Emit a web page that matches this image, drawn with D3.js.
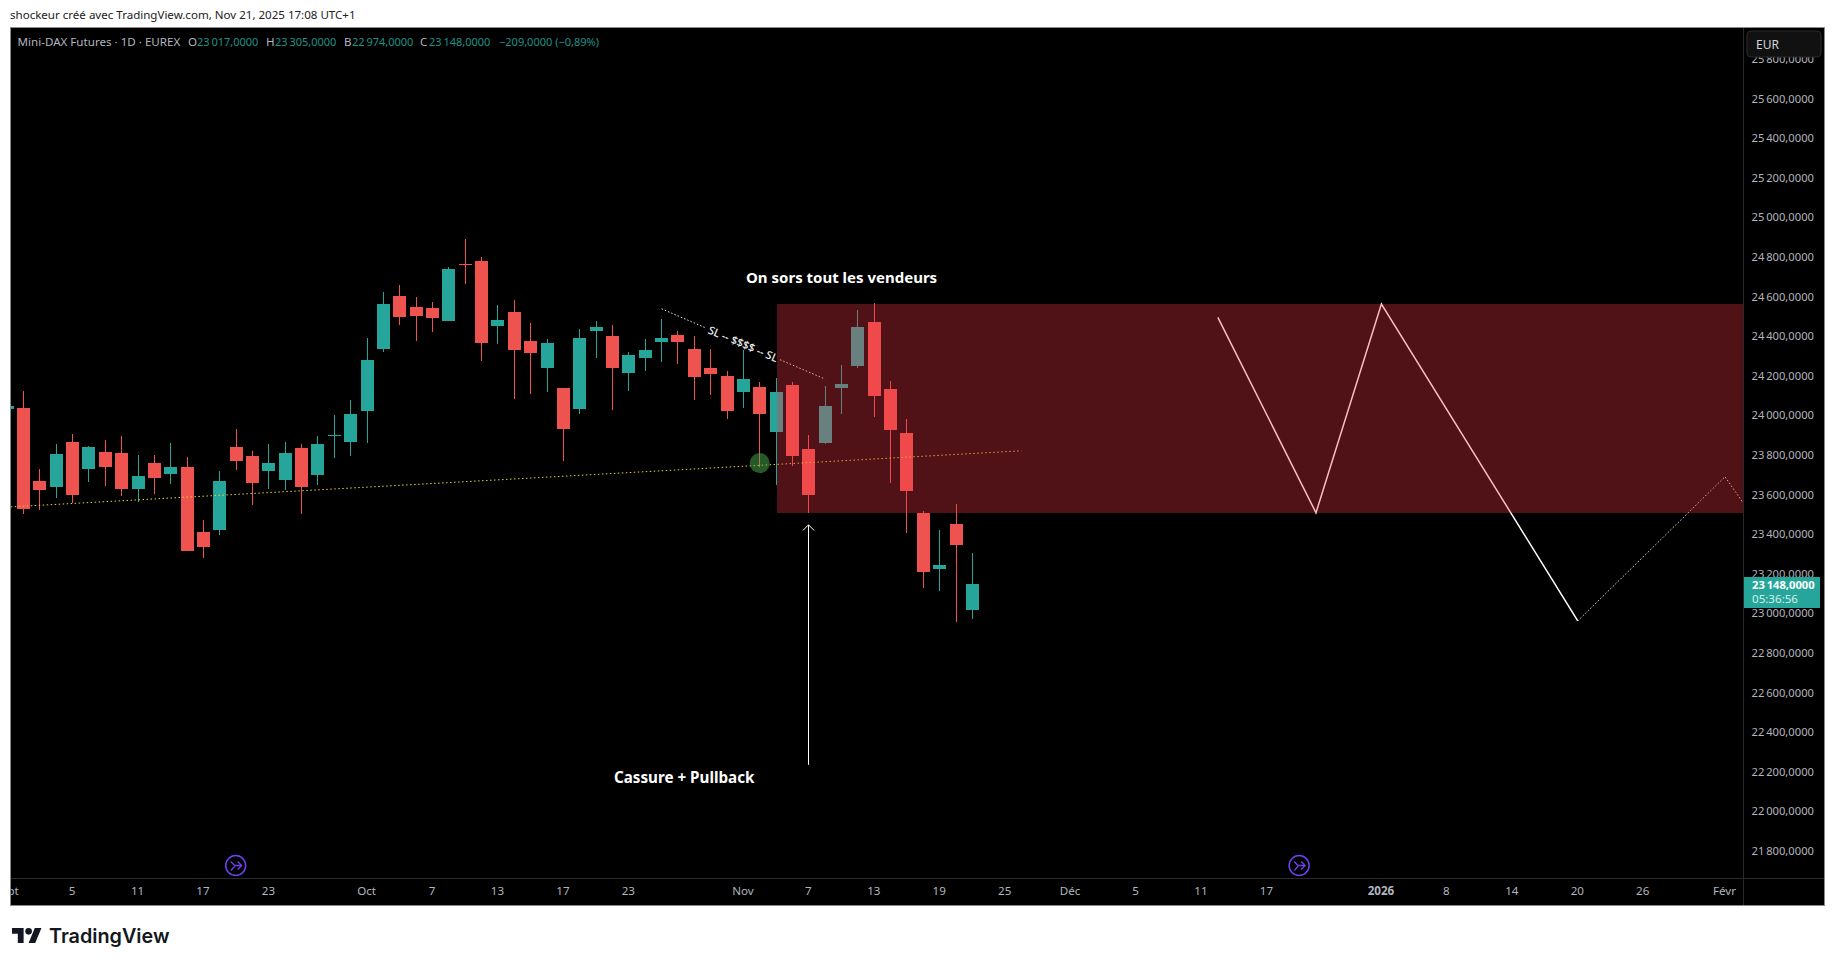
<!DOCTYPE html>
<html>
<head>
<meta charset="utf-8">
<title>Mini-DAX Futures</title>
<script src="https://cdn.jsdelivr.net/npm/d3@7"></script>
<style>
    html, body { margin: 0; padding: 0; background: #fff; overflow: hidden; }
    text { font-family: "Noto Sans", sans-serif; }
</style>
</head>
<body>
<svg id="graph" width="1835" height="966"></svg>
<script>
// candle index 0 = 2 Sept 2025, index -1 is the clipped 1 Sept bar
const barIndex = d3.range(-1, 59);
const opens = [24032,24037,23668,23638,23865,23729,23815,23810,23628,23759,23704,23739,23411,23421,23840,23795,23719,23673,23835,23699,23896,23865,24022,24335,24603,24547,24542,24476,24764,24779,24451,24522,24375,24239,24138,24032,24426,24401,24214,24290,24370,24406,24335,24239,24199,24118,24143,23916,24153,23830,23860,24138,24249,24471,24133,23911,23507,23224,23451,23017];
const highs = [24047,24123,23729,23855,23906,23845,23876,23896,23800,23800,23860,23790,23471,23719,23931,23820,23855,23865,23855,23896,24002,24077,24391,24623,24658,24598,24572,24749,24891,24800,24557,24582,24466,24386,24138,24436,24476,24456,24320,24386,24487,24426,24401,24335,24224,24330,24168,24189,24168,23901,24148,24254,24532,24567,24173,23982,23517,23421,23552,23305];
const lows = [24032,23502,23522,23583,23556,23663,23643,23593,23562,23603,23653,23315,23280,23396,23724,23547,23628,23623,23502,23648,23785,23795,23860,24320,24456,24375,24421,24476,24663,24274,24360,24083,24108,24118,23769,24007,24290,24027,24123,24224,24269,24259,24077,24103,23982,24037,23739,23648,23744,23507,23855,24007,24239,23992,23658,23406,23128,23113,22956,22974];
const closes = [24047,23527,23623,23805,23598,23840,23739,23628,23694,23684,23739,23315,23335,23668,23769,23658,23759,23810,23638,23855,23901,24007,24279,24562,24497,24502,24492,24739,24759,24365,24481,24330,24315,24365,23931,24391,24446,24239,24305,24330,24391,24370,24194,24209,24022,24184,24007,24118,23795,23598,24047,24158,24446,24098,23926,23618,23209,23244,23345,23148];

const priceTicks = d3.range(21800, 25801, 200);
const timeTicks = [-1,3,7,11,15,21,25,29,33,37,44,48,52,56,60,64,68,72,76,83,87,91,95,99,104];
const timeLabels = ["Sept","5","11","17","23","Oct","7","13","17","23","Nov","7","13","19","25","Déc","5","11","17","2026","8","14","20","26","Févr"];
const boldTimeLabels = ["2026"];

// drawings, as [bar index, price]
const zonePoints = [[46, 24562], [112, 23507]];
const trendPoints = [[-2, 23532], [61, 23821]];
const stopLeft = [[39, 24538], [41.66, 24443]];
const stopRight = [[46.24, 24281], [49, 24183]];
const stopLabelAt = [43.95, 24360];
const zigzagSolid = [[73, 24495], [79, 23508], [83, 24562], [95, 22962]];
const zigzagDotted = [[95, 22962], [104, 23690], [108, 23214]];
const arrowPoints = [[48, 23447], [48, 22235]];
const touchPoint = [45, 23759];
const eventBars = [13, 78];
const lastPrice = 23148;

const legendName = "Mini-DAX Futures · 1D · EUREX";
const legendParts = [["O", "23\u202f017,0000"], ["H", "23\u202f305,0000"], ["B", "22\u202f974,0000"], ["C", "23\u202f148,0000"]];
const legendChange = "−209,0000 (−0,89%)";
const legendPartX = [188, 266, 344, 420];
const legendValueX = [197, 275, 352, 429];

const up = "#26a69a", down = "#ef5350";
const frame = { left: 10, top: 27, right: 1824, bottom: 905, axisX: 1743, axisY: 878 };

const svg = d3.select("#graph");
const x = d3.scaleLinear().domain([0, 104]).range([24, 1725.5]);
const y = d3.scaleLinear().domain([21800, 25600]).range([851, 98.5]);
const fr = d3.formatLocale({ decimal: ",", thousands: "\u202f", grouping: [3], currency: ["", ""] });
const priceFormat = fr.format(",.4f");

const candles = barIndex.map((b, i) => ({ b, o: opens[i], h: highs[i], l: lows[i], c: closes[i] }));

// clips
const defs = svg.append("defs");
defs.append("clipPath").attr("id", "plotClip").append("rect")
    .attr("x", frame.left + 1).attr("y", frame.top + 1)
    .attr("width", frame.axisX - frame.left - 1).attr("height", frame.axisY - frame.top - 1);
defs.append("clipPath").attr("id", "timeClip").append("rect")
    .attr("x", frame.left + 1).attr("y", frame.axisY)
    .attr("width", frame.axisX - frame.left - 1).attr("height", frame.bottom - frame.axisY);

// Page header and panel
svg.append("text").attr("x", 10).attr("y", 19)
    .attr("font-size", 11.55).attr("fill", "#222")
    .text("shockeur créé avec TradingView.com, Nov 21, 2025 17:08 UTC+1");

svg.append("rect")
    .attr("x", frame.left + 0.5).attr("y", frame.top + 0.5)
    .attr("width", frame.right - frame.left).attr("height", frame.bottom - frame.top)
    .attr("fill", "#000").attr("stroke", "#8a8a8a");

const plot = svg.append("g").attr("clip-path", "url(#plotClip)");

// Candles
const bars = plot.selectAll(".candle").data(candles).enter().append("g").attr("class", "candle");
bars.append("rect")
    .attr("x", d => Math.round(x(d.b)) - 1)
    .attr("y", d => Math.round(y(d.h)))
    .attr("width", 1)
    .attr("height", d => Math.max(1, Math.round(y(d.l)) - Math.round(y(d.h))))
    .attr("fill", d => d.c >= d.o ? up : down);
bars.append("rect")
    .attr("x", d => Math.round(x(d.b)) - 7)
    .attr("y", d => Math.round(y(Math.max(d.o, d.c))))
    .attr("width", 13)
    .attr("height", d => Math.max(1, Math.round(y(Math.min(d.o, d.c))) - Math.round(y(Math.max(d.o, d.c)))))
    .attr("fill", d => d.c >= d.o ? up : down);

// Drawings under the zone
const line = d3.line().x(d => x(d[0]) - 0.5).y(d => y(d[1]));

plot.append("path").datum(trendPoints).attr("d", line)
    .attr("fill", "none").attr("stroke", "#e3d43a").attr("stroke-width", 1).attr("stroke-dasharray", "1.5 2.5");

plot.append("circle")
    .attr("cx", x(touchPoint[0]) - 0.5).attr("cy", y(touchPoint[1])).attr("r", 10)
    .attr("fill", "#4caf50").attr("fill-opacity", 0.5);

[stopLeft, stopRight].forEach(seg => {
    plot.append("path").datum(seg).attr("d", line)
        .attr("fill", "none").attr("stroke", "#e8e8e8").attr("stroke-width", 1).attr("stroke-dasharray", "1.5 2");
});
plot.append("text")
    .attr("transform", `translate(${x(stopLabelAt[0])},${y(stopLabelAt[1])}) rotate(23.2)`)
    .attr("text-anchor", "middle").attr("dy", "0.35em")
    .attr("font-size", 11).attr("font-weight", 500).attr("fill", "#f0f0f0")
    .text("SL -- $$$$ -- SL");

plot.append("path").datum(zigzagSolid).attr("d", line)
    .attr("fill", "none").attr("stroke", "#fff").attr("stroke-width", 1.5);
plot.append("path").datum(zigzagDotted).attr("d", line)
    .attr("fill", "none").attr("stroke", "#ddd").attr("stroke-width", 1).attr("stroke-dasharray", "1.5 2");

// Supply zone sits on top of everything drawn so far
plot.append("rect")
    .attr("x", Math.round(x(zonePoints[0][0])))
    .attr("y", Math.round(y(zonePoints[0][1])))
    .attr("width", x(zonePoints[1][0]) - x(zonePoints[0][0]))
    .attr("height", Math.round(y(zonePoints[1][1])) - Math.round(y(zonePoints[0][1])))
    .attr("fill", "#f23645").attr("fill-opacity", 0.33);

// Arrow
const arrowX = Math.round(x(arrowPoints[0][0])) - 0.5;
plot.append("line")
    .attr("x1", arrowX).attr("x2", arrowX)
    .attr("y1", y(arrowPoints[0][1])).attr("y2", y(arrowPoints[1][1]))
    .attr("stroke", "#fff").attr("stroke-width", 1);
plot.append("path")
    .attr("d", `M${arrowX - 5.5},${y(arrowPoints[0][1]) + 5.5}L${arrowX},${y(arrowPoints[0][1])}L${arrowX + 5.5},${y(arrowPoints[0][1]) + 5.5}`)
    .attr("fill", "none").attr("stroke", "#fff").attr("stroke-width", 1);

// Annotations
plot.append("text").attr("x", 746).attr("y", 283)
    .attr("font-size", 15).attr("font-weight", 700).attr("fill", "#fff")
    .text("On sors tout les vendeurs");
plot.append("text").attr("x", 614).attr("y", 783)
    .attr("font-size", 15.2).attr("font-weight", 700).attr("fill", "#fff")
    .text("Cassure + Pullback");

// Event badges
const badge = plot.selectAll(".badge").data(eventBars).enter().append("g")
    .attr("class", "badge")
    .attr("transform", d => `translate(${x(d) - 1},865.5)`);
badge.append("circle").attr("r", 10)
    .attr("fill", "#000").attr("stroke", "#6f42f0").attr("stroke-width", 1.5);
badge.append("path")
    .attr("d", "M-5,-4L-1,0H6M2,-4L6,0L2,4M-5,5L-1,1")
    .attr("fill", "none").attr("stroke", "#6f42f0").attr("stroke-width", 1.3);

// Axis frame lines
svg.append("line").attr("x1", frame.axisX + 0.5).attr("x2", frame.axisX + 0.5)
    .attr("y1", frame.top + 1).attr("y2", frame.bottom).attr("stroke", "#2a2a2a");
svg.append("line").attr("x1", frame.left + 1).attr("x2", frame.right)
    .attr("y1", frame.axisY + 0.5).attr("y2", frame.axisY + 0.5).attr("stroke", "#2a2a2a");

// Price axis
const yAxis = svg.append("g")
    .attr("transform", `translate(${frame.axisX},0)`)
    .call(d3.axisRight(y).tickValues(priceTicks).tickFormat(priceFormat).tickSize(0).tickPadding(8.5));
yAxis.select(".domain").remove();
yAxis.selectAll("text").attr("font-size", 11.2).attr("fill", "#b2b5be")
    .style("font-family", "'Noto Sans', sans-serif");

// Time axis, the clip has to sit on an untransformed parent
const xAxis = svg.append("g").attr("clip-path", "url(#timeClip)").append("g")
    .attr("transform", `translate(-1.5,${frame.axisY})`)
    .call(d3.axisBottom(x).tickValues(timeTicks).tickFormat((d, i) => timeLabels[i]).tickSize(0).tickPadding(9));
xAxis.select(".domain").remove();
xAxis.selectAll("text").attr("font-size", 11.6).attr("fill", "#b2b5be")
    .attr("font-weight", d => boldTimeLabels.includes(timeLabels[timeTicks.indexOf(d)]) ? 700 : 400)
    .style("font-family", "'Noto Sans', sans-serif");

// Last price tag
const tag = svg.append("g");
tag.append("rect").attr("x", 1744).attr("y", Math.round(y(lastPrice)) - 7).attr("width", 76).attr("height", 31).attr("fill", up);
tag.append("text").attr("x", 1752).attr("y", y(lastPrice) + 4.5)
    .attr("font-size", 11.2).attr("font-weight", 700).attr("fill", "#fff").text(priceFormat(lastPrice));
tag.append("text").attr("x", 1752).attr("y", y(lastPrice) + 19)
    .attr("font-size", 11.6).attr("fill", "#d4eeeb").text("05:36:56");

// Currency button
svg.append("rect").attr("x", 1747).attr("y", 31).attr("width", 74).attr("height", 26).attr("rx", 4)
    .attr("fill", "#111").attr("stroke", "#2a2a2a");
svg.append("text").attr("x", 1756).attr("y", 49).attr("font-size", 12).attr("fill", "#d1d4dc").text("EUR");

// Legend line
const legend = svg.append("g");
legend.append("text").attr("x", 17.5).attr("y", 46).attr("font-size", 11.6).attr("fill", "#b2b5be").text(legendName);
legendParts.forEach((p, i) => {
    legend.append("text").attr("x", legendPartX[i]).attr("y", 46).attr("font-size", 11.6).attr("fill", "#b2b5be").text(p[0]);
    legend.append("text").attr("x", legendValueX[i]).attr("y", 46).attr("font-size", 11).attr("fill", "#1f9287").text(p[1]);
});
legend.append("text").attr("x", 499).attr("y", 46).attr("font-size", 11).attr("fill", "#1f9287").text(legendChange);

// Footer logo
const logo = svg.append("g").attr("transform", "translate(12,924.7) scale(0.83)");
logo.append("path").attr("d", "M14 22H7V11H0V4h14v18zM28 22h-8l7.5-18h8L28 22z").attr("fill", "#131722");
logo.append("circle").attr("cx", 20).attr("cy", 8).attr("r", 4).attr("fill", "#131722");
svg.append("text").attr("x", 49).attr("y", 943)
    .attr("font-size", 19.8).attr("font-weight", 600).attr("fill", "#131722")
    .style("font-family", "Inter, sans-serif")
    .text("TradingView");
</script>
</body>
</html>
